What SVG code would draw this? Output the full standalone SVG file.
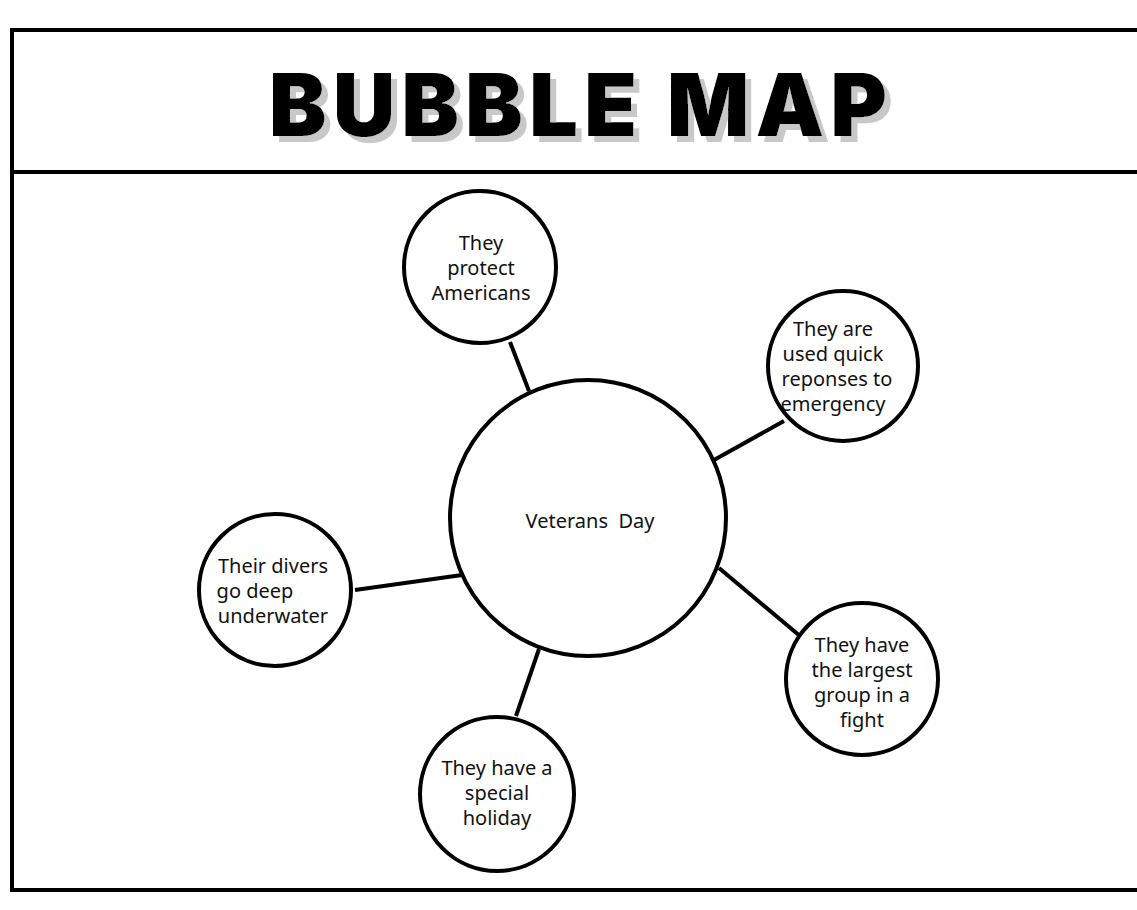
<svg xmlns="http://www.w3.org/2000/svg" width="1137" height="910" viewBox="0 0 1137 910">
<style>
.b{fill:#fff;stroke:#000;stroke-width:4}
.c line{stroke:#000;stroke-width:4}
.t{font-family:"Noto Sans",sans-serif;font-size:20px;text-anchor:middle;fill:#111}
.h{font-family:"Inter","DejaVu Sans",sans-serif;font-weight:900;font-size:86px;text-anchor:middle}
</style>
<defs><filter id="sh" x="-10%" y="-20%" width="120%" height="150%"><feDropShadow dx="6" dy="6" stdDeviation="0" flood-color="#c8c8c8"/></filter></defs>
<rect x="0" y="0" width="1137" height="910" fill="#fff"/>
<path d="M1140 30 H12 V890 H1140" fill="none" stroke="#000" stroke-width="4"/>
<line x1="12" y1="172" x2="1140" y2="172" stroke="#000" stroke-width="4"/>
<text class="h" x="578" y="136" fill="#000" filter="url(#sh)" textLength="618" lengthAdjust="spacing">BUBBLE MAP</text>
<g class="c">
<line x1="529" y1="391" x2="510" y2="342"/>
<line x1="714" y1="460" x2="784" y2="421"/>
<line x1="355" y1="590" x2="462" y2="575"/>
<line x1="516" y1="716" x2="539" y2="649"/>
<line x1="719" y1="568" x2="800" y2="636"/>
</g>
<g id="center"><circle class="b" cx="588" cy="518" r="138"/><text class="t" x="590" y="528" xml:space="preserve">Veterans  Day</text></g>
<g id="n1"><circle class="b" cx="480" cy="267" r="76"/><text class="t" x="481" y="250">They</text><text class="t" x="481" y="275">protect</text><text class="t" x="481" y="300">Americans</text></g>
<g id="n2"><circle class="b" cx="843" cy="366" r="75"/><text class="t" x="833" y="336">They are</text><text class="t" x="833" y="361">used quick</text><text class="t" x="837" y="386">reponses to</text><text class="t" x="833" y="411">emergency</text></g>
<g id="n3"><circle class="b" cx="275" cy="590" r="76"/><text class="t" x="273" y="573">Their divers</text><text class="t" x="255" y="598">go deep</text><text class="t" x="273" y="623">underwater</text></g>
<g id="n4"><circle class="b" cx="497" cy="794" r="77"/><text class="t" x="497" y="775">They have a</text><text class="t" x="497" y="800">special</text><text class="t" x="497" y="825">holiday</text></g>
<g id="n5"><circle class="b" cx="862" cy="679" r="76"/><text class="t" x="862" y="652">They have</text><text class="t" x="862" y="677">the largest</text><text class="t" x="862" y="702">group in a</text><text class="t" x="862" y="727">fight</text></g>
</svg>
